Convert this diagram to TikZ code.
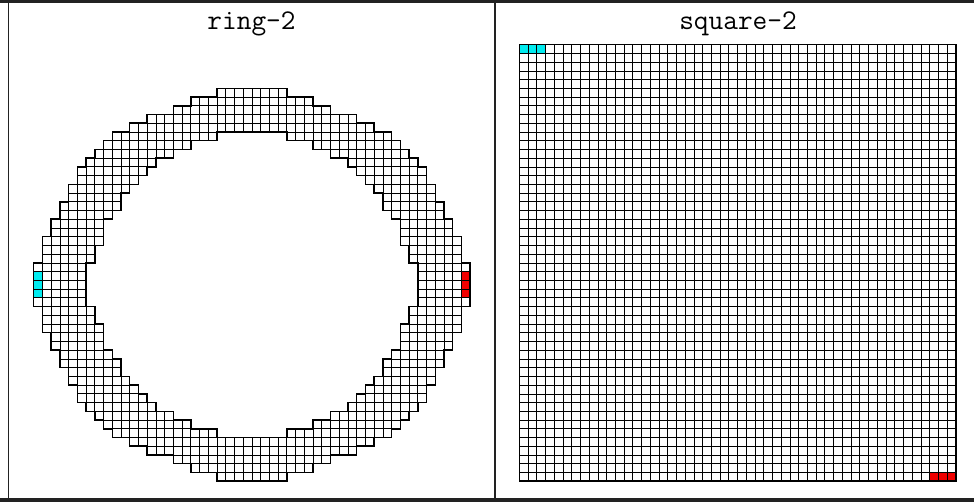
\documentclass[tikz,border=0pt]{standalone}
\usepackage{fontspec}
\definecolor{cellcyan}{RGB}{0,236,240}
\definecolor{cellred}{RGB}{240,0,0}
\definecolor{framegray}{RGB}{34,34,34}
\begin{document}
\begin{tikzpicture}[x=1pt,y=-1pt,
  gridline/.style={line width=0.75pt,black},
  outline/.style={line width=1.5pt,black,line join=miter},
  paneltitle/.style={anchor=base,inner sep=0pt,font=\ttfamily\fontsize{28.5}{32}\selectfont}]
\useasboundingbox (0,0) rectangle (974,502);
% frame
\fill[framegray] (0,0) rectangle (974,3.5);
\fill[framegray] (0,498) rectangle (974,502);
\draw[line width=1.2pt,framegray] (8.7,0) -- (8.7,502);
\draw[line width=1.4pt,framegray] (495,0) -- (495,502);
% titles
\node[paneltitle] (t1) at (251.5,30) {ring-2};
\node[paneltitle] (t2) at (738,30) {square-2};
% ring
\begin{scope}[shift={(33.7,88.3)},x=8.73pt,y=-8.73pt]
  \fill[cellcyan] (0,21) rectangle (1,24);
  \fill[cellred] (49,21) rectangle (50,24);
  \foreach \r/\s/\e in {0/21/25,1/18/25,2/16/25,3/13/25,4/11/25,5/9/21,6/8/18,7/7/16,8/6/14,9/5/13,10/5/12,11/4/11,12/4/10,13/3/10,14/3/9,15/2/8,16/2/8,17/1/8,18/1/7,19/1/7,20/0/6,21/0/6,22/0/6,23/0/6,24/0/6,25/1/7,26/1/7,27/1/8,28/2/8,29/2/8,30/3/9,31/3/10,32/4/10,33/4/11,34/5/12,35/5/13,36/6/14,37/7/16,38/8/18,39/9/21,40/11/25,41/13/25,42/16/25,43/18/25,44/21/25}{
    \pgfmathtruncatemacro\rr{\r+1}
    \pgfmathtruncatemacro\ms{50-\s}
    \pgfmathtruncatemacro\me{50-\e}
    \draw[gridline] (\s,\r) -- (\e,\r) (\s,\rr) -- (\e,\rr) (\me,\r) -- (\ms,\r) (\me,\rr) -- (\ms,\rr);
    \foreach \c in {\s,...,\e} {\draw[gridline] (\c,\r) -- (\c,\rr);}
    \foreach \c in {\me,...,\ms} {\draw[gridline] (\c,\r) -- (\c,\rr);}
  }
  % outer outline
  \draw[outline] (21,0)
    foreach \x/\y in {18/1,16/2,13/3,11/4,9/5,8/6,7/7,6/8,5/9,5/10,4/11,4/12,3/13,3/14,2/15,2/16,1/17,1/18,1/19,0/20,0/21,0/22,0/23,0/24,1/25,1/26,1/27,2/28,2/29,3/30,3/31,4/32,4/33,5/34,5/35,6/36,7/37,8/38,9/39,11/40,13/41,16/42,18/43,21/44,29/45,32/44,34/43,37/42,39/41,41/40,42/39,43/38,44/37,45/36,45/35,46/34,46/33,47/32,47/31,48/30,48/29,49/28,49/27,49/26,50/25,50/24,50/23,50/22,50/21,49/20,49/19,49/18,48/17,48/16,47/15,47/14,46/13,46/12,45/11,45/10,44/9,43/8,42/7,41/6,39/5,37/4,34/3,32/2,29/1,21/0} { |- (\x,\y) } -- cycle;
  % inner outline
  \draw[outline] (21,5)
    foreach \x/\y in {18/6,16/7,14/8,13/9,12/10,11/11,10/12,10/13,9/14,8/15,8/16,8/17,7/18,7/19,6/20,6/21,6/22,6/23,6/24,7/25,7/26,8/27,8/28,8/29,9/30,10/31,10/32,11/33,12/34,13/35,14/36,16/37,18/38,21/39,29/40,32/39,34/38,36/37,37/36,38/35,39/34,40/33,40/32,41/31,42/30,42/29,42/28,43/27,43/26,44/25,44/24,44/23,44/22,44/21,43/20,43/19,42/18,42/17,42/16,41/15,40/14,40/13,39/12,38/11,37/10,36/9,34/8,32/7,29/6,21/5} { |- (\x,\y) } -- cycle;
\end{scope}
% square
\begin{scope}[shift={(519.3,44.7)},x=8.73pt,y=-8.73pt]
  \fill[cellcyan] (0,0) rectangle (3,1);
  \fill[cellred] (47,49) rectangle (50,50);
  \foreach \i in {0,...,50} {
    \draw[gridline] (\i,0) -- (\i,50);
    \draw[gridline] (0,\i) -- (50,\i);
  }
  \draw[outline] (0,0) rectangle (50,50);
\end{scope}
\end{tikzpicture}
\end{document}
